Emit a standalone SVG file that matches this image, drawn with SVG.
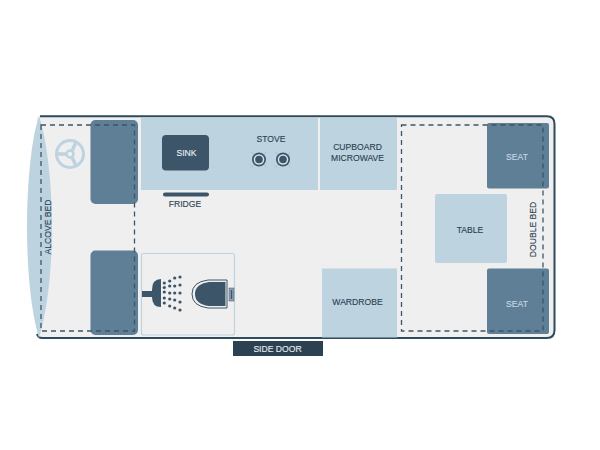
<svg xmlns="http://www.w3.org/2000/svg" width="600" height="450" viewBox="0 0 600 450">
<style>
text{font-family:"Liberation Sans",Arial,sans-serif;font-size:8.6px;text-anchor:middle;fill:#2a3f50;stroke:#2a3f50;stroke-width:.12}
.lt{fill:#bdd3e0}.seat{fill:#5f7f97}.dash{fill:none;stroke:#3c5568;stroke-width:1.300;stroke-dasharray:5 4}
.dot{fill:#3c5568}
</style>
<defs>
<g id="burner"><path d="M-8-8L8 8M-8 8L8-8" stroke="#8fa8b8" stroke-width=".5"/><circle r="7" fill="#3c5568"/><circle r="5.300" fill="#d5e3ec"/><circle r="3.800" fill="#3c5568"/></g>
</defs>
<g id="shell">
<path d="M40 116H547Q555 116 555 124V330Q555 338 547 338H44Q38 338 37 334V120Q37 116 40 116Z" fill="#efefef"/>
<path d="M40 116.300H547Q554.500 116.300 554.500 124V330Q554.500 338 547 338H42Q38 338 37 334" fill="none" stroke="#2f4b5f" stroke-width="2"/>
</g>
<g id="alcove-bed">
<path d="M39 116C31 140 27 185 27 227C27 270 31 312 39 338C47 312 52 270 52 227C52 185 47 140 39 116Z" class="lt"/>
<text transform="translate(51 227) rotate(-90)">ALCOVE BED</text>
</g>
<g id="wheel" fill="none" stroke="#bdd3e0">
<circle cx="70" cy="154" r="13.500" stroke-width="3"/><circle cx="70" cy="154" r="3.500" stroke-width="2.500"/>
<path d="M66.500 154H57M72 151L76 142M72 157L76 166" stroke-width="3.500"/>
</g>
<g id="front-seat-top"><rect class="seat" x="90.500" y="120" width="47.500" height="84" rx="5"/></g>
<g id="front-seat-bottom"><rect class="seat" x="90.500" y="250.500" width="47.500" height="84.500" rx="5"/></g>
<g id="kitchen">
<rect class="lt" x="141" y="118" width="177" height="72"/>
<rect x="162" y="135" width="47" height="35.500" rx="4" fill="#3c5568"/>
<text x="186.500" y="156" style="fill:#e8eef2;stroke:#e8eef2">SINK</text>
<text x="271" y="142">STOVE</text>
<use href="#burner" x="259" y="159.500"/><use href="#burner" x="283" y="159.500"/>
</g>
<g id="fridge"><rect x="163" y="192.500" width="46" height="4" rx="2" fill="#3c5568"/><text x="185" y="207">FRIDGE</text></g>
<g id="cupboard"><rect class="lt" x="320" y="118" width="77" height="72"/><text x="357.500" y="150">CUPBOARD</text><text x="357.500" y="160.500">MICROWAVE</text></g>
<g id="bathroom">
<rect x="141.500" y="253.500" width="93" height="81.500" rx="2" fill="#efefef" stroke="#bdd3e0" stroke-width="1.200"/>
<rect x="142" y="291" width="10" height="6" fill="#3c5568"/>
<path d="M152 290Q152 279 161 279V307Q152 307 152 297Z" fill="#3c5568"/>
<g class="dot">
<circle cx="164.300" cy="283" r="1.600"/><circle cx="164.300" cy="287.500" r="1.600"/><circle cx="164.300" cy="292" r="1.600"/><circle cx="164.300" cy="298" r="1.600"/><circle cx="164.300" cy="303" r="1.600"/>
<circle cx="169.700" cy="281" r="1.600"/><circle cx="169.700" cy="286" r="1.600"/><circle cx="169.700" cy="293" r="1.600"/><circle cx="169.700" cy="299" r="1.600"/><circle cx="169.700" cy="306" r="1.600"/>
<circle cx="174.700" cy="278" r="1.600"/><circle cx="174.700" cy="286" r="1.600"/><circle cx="174.700" cy="293" r="1.600"/><circle cx="174.700" cy="300" r="1.600"/><circle cx="174.700" cy="308" r="1.600"/>
<circle cx="180" cy="277" r="1.600"/><circle cx="180" cy="285" r="1.600"/><circle cx="180" cy="293" r="1.600"/><circle cx="180" cy="302" r="1.600"/><circle cx="180" cy="310" r="1.600"/>
</g>
<path d="M227 280H208Q192 282 192 294Q192 306 208 308H227Z" fill="#efefef" stroke="#3c5568" stroke-width="1"/>
<path d="M225.500 282H209Q195 284 195 294Q195 304 209 306H225.500Z" fill="#3c5568"/>
<rect x="229" y="288" width="5" height="13" fill="#8fa3b2" stroke="#3c5568" stroke-width=".5"/><rect x="230.800" y="290" width="1.400" height="9" fill="#3c5568"/>
</g>
<g id="wardrobe"><rect class="lt" x="322" y="268.500" width="75" height="69"/><text x="357.500" y="305">WARDROBE</text></g>
<g id="side-door"><rect x="233" y="341" width="90" height="15" fill="#2c4152"/><text x="277.500" y="352" style="fill:#e8eef2;stroke:#e8eef2">SIDE DOOR</text></g>
<g id="seat-top"><rect class="seat" x="487" y="123" width="62" height="65.500" rx="2"/><text x="517" y="160" style="fill:#c5d8e3;stroke:#c5d8e3">SEAT</text></g>
<g id="seat-bottom"><rect class="seat" x="487" y="268.500" width="62" height="65.500" rx="2"/><text x="517" y="307" style="fill:#c5d8e3;stroke:#c5d8e3">SEAT</text></g>
<g id="table"><rect class="lt" x="435" y="194" width="72" height="69" rx="2"/><text x="470" y="232.500">TABLE</text></g>
<g id="double-bed-label"><text transform="translate(536 229.500) rotate(-90)">DOUBLE BED</text></g>
<g id="dashes">
<rect class="dash" x="41" y="125" width="93.500" height="206"/>
<rect class="dash" x="401.500" y="125" width="141.500" height="206"/>
</g>
</svg>
